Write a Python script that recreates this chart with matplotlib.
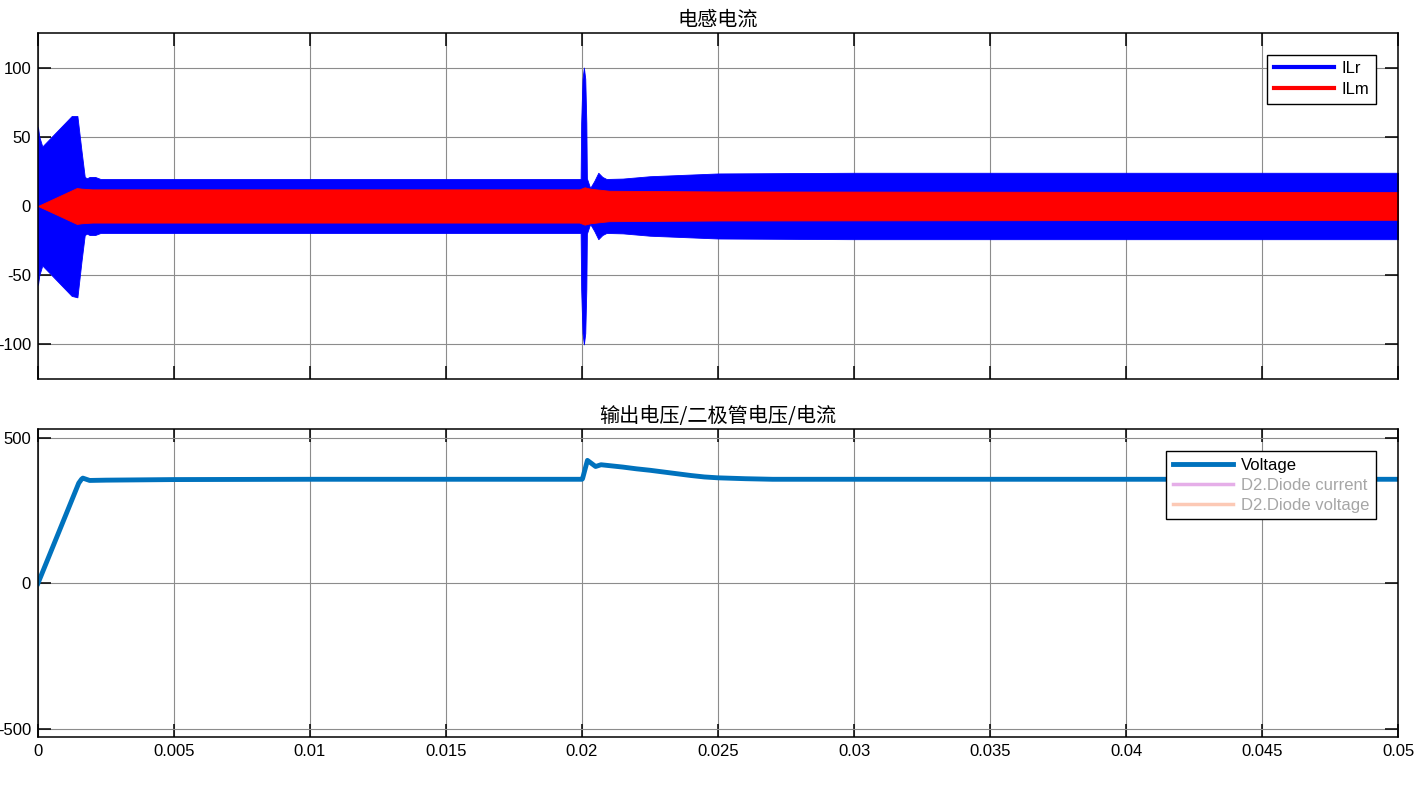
import matplotlib
matplotlib.use('Agg')
import matplotlib.pyplot as plt
from matplotlib import font_manager as fm
from matplotlib.lines import Line2D

# keep the narrow variant out, so 'Liberation Sans' means the regular width
fm.fontManager.ttflist = [f for f in fm.fontManager.ttflist if 'Narrow' not in f.fname]
if hasattr(fm.fontManager, '_findfont_cached'):
    fm.fontManager._findfont_cached.cache_clear()

plt.rcParams['font.family'] = ['Liberation Sans', 'Noto Sans CJK SC']
plt.rcParams['axes.unicode_minus'] = False

# inductor current envelopes (time in s, current in A)
ilr_t = [0.0, 0.00005, 0.00016, 0.0007, 0.00124, 0.00145, 0.0016, 0.00172, 0.0018,
         0.0019, 0.0021, 0.0023, 0.01995, 0.01997, 0.02002, 0.02007, 0.02012, 0.02016,
         0.02018, 0.02030, 0.02045, 0.0206, 0.02075, 0.0209, 0.0215, 0.0225, 0.025,
         0.03, 0.05]
ilr_up = [57, 50, 43, 54, 65, 65, 40, 21, 20,
          21, 21, 19.5, 19.5, 60, 92, 100, 92, 60,
          20, 13, 18, 24, 21, 19.5, 19.8, 21.5, 23.5,
          24, 24]
ilr_lo = [-57, -50, -43, -54, -65, -66, -40, -21, -20,
          -21, -21, -19.5, -19.5, -60, -92, -100, -92, -60,
          -20, -13, -18, -24, -21, -19.5, -19.8, -21.5, -23.5,
          -24, -24]

ilm_t = [0.0, 0.00143, 0.0016, 0.002, 0.0199, 0.0201, 0.0203, 0.021, 0.025, 0.05]
ilm_up = [0, 13, 12.5, 12, 12, 13.5, 12.5, 11, 10.5, 10]
ilm_lo = [0, -13, -12.5, -12, -12, -13.5, -12.5, -11, -10.5, -10]

# output voltage
v_t = [0.0, 0.0015, 0.0016, 0.00165, 0.0019, 0.0025, 0.005, 0.01, 0.02, 0.02002,
       0.0202, 0.0205, 0.0207, 0.021, 0.0215, 0.022, 0.0225, 0.023, 0.0235, 0.024,
       0.0245, 0.025, 0.026, 0.027, 0.05]
v_out = [0, 345, 358, 362, 354, 355, 357, 358, 358, 360,
         423, 402, 408, 405, 400, 394, 389, 383, 377, 371,
         366, 363, 360, 358, 358]

x_ticks = [0, 0.005, 0.01, 0.015, 0.02, 0.025, 0.03, 0.035, 0.04, 0.045, 0.05]
x_labels = ['0', '0.005', '0.01', '0.015', '0.02', '0.025', '0.03', '0.035', '0.04', '0.045', '0.05']

cjk = ['Noto Sans CJK SC', 'DejaVu Sans']

fig = plt.figure(figsize=(14.27, 7.91), dpi=100)
ax1 = fig.add_axes([0.0266, 0.5209, 0.9531, 0.4374])
ax2 = fig.add_axes([0.0266, 0.0677, 0.9531, 0.3896])


def style_axes(ax):
    ax.set_axisbelow(True)
    ax.grid(True, color='#8c8c8c', linewidth=0.8)
    ax.set_xlim(0, 0.05)
    ax.set_xticks(x_ticks)
    ax.tick_params(direction='in', top=True, right=True, length=9.5, width=1.1,
                   labelsize=12, pad=5)
    for s in ax.spines.values():
        s.set_linewidth(1.1)


ax1.fill_between(ilr_t, ilr_lo, ilr_up, color='#0000ff', linewidth=0.6)
ax1.fill_between(ilm_t, ilm_lo, ilm_up, color='#ff0000', linewidth=0.6)
style_axes(ax1)
ax1.set_ylim(-125, 125)
ax1.set_yticks([-100, -50, 0, 50, 100])
ax1.set_xticklabels([])
ax1.set_title('电感电流', family=cjk, fontsize=14.5, pad=5)
h1 = [Line2D([], [], color='#0000ff', lw=3), Line2D([], [], color='#ff0000', lw=3)]
leg1 = ax1.legend(h1, ['ILr', 'ILm'], loc='upper right', fontsize=12, fancybox=False,
                  edgecolor='black', framealpha=1, handlelength=3.6, borderaxespad=1.3,
                  labelspacing=0.35, handletextpad=0.5)
leg1.get_frame().set_linewidth(1.0)

ax2.plot(v_t, v_out, color='#0072bd', lw=3.5, solid_joinstyle='round')
style_axes(ax2)
ax2.set_ylim(-530, 530)
ax2.set_yticks([-500, 0, 500])
ax2.set_xticklabels(x_labels)
ax2.set_title('输出电压/二极管电压/电流', family=cjk, fontsize=14.5, pad=5)
h2 = [Line2D([], [], color='#0072bd', lw=3.5),
      Line2D([], [], color='#e5aee8', lw=2.5),
      Line2D([], [], color='#fcc9b5', lw=2.5)]
leg2 = ax2.legend(h2, ['Voltage', 'D2.Diode current', 'D2.Diode voltage'], loc='upper right',
                  fontsize=12, fancybox=False, edgecolor='black', framealpha=1,
                  handlelength=3.6, borderaxespad=1.3, labelspacing=0.3, handletextpad=0.5)
leg2.get_frame().set_linewidth(1.0)
for txt, c in zip(leg2.get_texts(), ['black', '#a6a6a6', '#a6a6a6']):
    txt.set_color(c)

fig.savefig('out.png', dpi=100, facecolor='white')
